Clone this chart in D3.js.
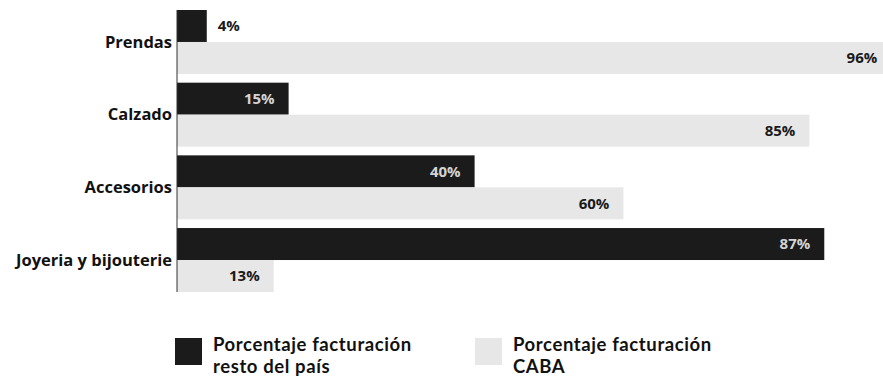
<!DOCTYPE html>
<html>
<head>
<meta charset="utf-8">
<script src="https://cdn.jsdelivr.net/npm/d3@7/dist/d3.min.js"></script>
<style>
  html, body { margin: 0; padding: 0; background: #fff; }
  svg text { font-family: "Open Sans", "Noto Sans", sans-serif; font-weight: 700; }
  svg g.leg text { font-family: Lato, "Open Sans", sans-serif; letter-spacing: 0.6px; }
</style>
</head>
<body>
<svg id="chart" width="883" height="378"></svg>
<script>
// Categorías y porcentajes de facturación
const categories = ["Prendas", "Calzado", "Accesorios", "Joyeria y bijouterie"];
const restoPais = [4, 15, 40, 87];
const caba = [96, 85, 60, 13];
const seriesNames = ["Porcentaje facturación\nresto del país", "Porcentaje facturación\nCABA"];
const seriesColors = ["#1b1b1b", "#e7e7e7"];

const width = 883, height = 378;
const svg = d3.select("#chart");

const x = d3.scaleLinear().domain([0, 100]).range([177, 177 + 744]);
const y = d3.scaleBand().domain(categories).range([10, 292]).paddingInner(0.12).paddingOuter(0);
const sub = d3.scaleBand().domain([0, 1]).range([0, y.bandwidth()]);

svg.append("clipPath").attr("id", "plotClip")
  .append("rect").attr("x", 0).attr("y", 0).attr("width", width).attr("height", height);

const rows = categories.map((c, i) => ({ cat: c, vals: [restoPais[i], caba[i]] }));

const g = svg.append("g").attr("clip-path", "url(#plotClip)");

const groups = g.selectAll("g.cat").data(rows).join("g")
  .attr("class", "cat")
  .attr("transform", d => `translate(0,${y(d.cat)})`);

groups.selectAll("rect").data(d => d.vals.map((v, s) => ({ v, s }))).join("rect")
  .attr("x", x(0))
  .attr("y", d => sub(d.s))
  .attr("width", d => x(d.v) - x(0))
  .attr("height", sub.bandwidth())
  .attr("fill", d => seriesColors[d.s]);

// Etiquetas de valor
groups.selectAll("text.val").data(d => d.vals.map((v, s) => ({ v, s }))).join("text")
  .attr("class", "val")
  .attr("font-size", 15)
  .attr("dy", "0.35em")
  .attr("y", d => sub(d.s) + sub.bandwidth() / 2)
  .each(function(d) {
    const t = d3.select(this);
    const end = x(d.v);
    if (d.s === 0 && end - x(0) < 45) {
      t.attr("x", end + 11).attr("text-anchor", "start").attr("fill", "#1a1a1a");
    } else {
      t.attr("x", Math.min(end - 14, width - 5)).attr("text-anchor", "end")
       .attr("fill", d.s === 0 ? "#d4d4d4" : "#1a1a1a");
    }
  })
  .text(d => d.v + "%");

// Eje vertical
svg.append("line")
  .attr("x1", x(0)).attr("x2", x(0))
  .attr("y1", 10).attr("y2", 292)
  .attr("stroke", "#333").attr("stroke-width", 1);

// Etiquetas de categoría
svg.selectAll("text.cat").data(categories).join("text")
  .attr("class", "cat")
  .attr("x", 172)
  .attr("y", d => y(d) + y.bandwidth() / 2)
  .attr("dy", "0.35em")
  .attr("text-anchor", "end")
  .attr("font-size", 16.5)
  .attr("fill", "#111")
  .text(d => d);

// Leyenda: cada línea del rótulo como texto propio
const legendX = [175, 475];
const legend = svg.selectAll("g.leg").data(seriesNames).join("g")
  .attr("class", "leg")
  .attr("transform", (d, i) => `translate(${legendX[i]},338)`);
legend.append("rect")
  .attr("width", 27).attr("height", 27)
  .attr("fill", (d, i) => seriesColors[i]);
legend.selectAll("text").data(d => d.split("\n")).join("text")
  .attr("x", 38)
  .attr("y", (d, i) => 13 + i * 22)
  .attr("font-size", 18.5)
  .attr("fill", "#111")
  .text(d => d);
</script>
</body>
</html>
